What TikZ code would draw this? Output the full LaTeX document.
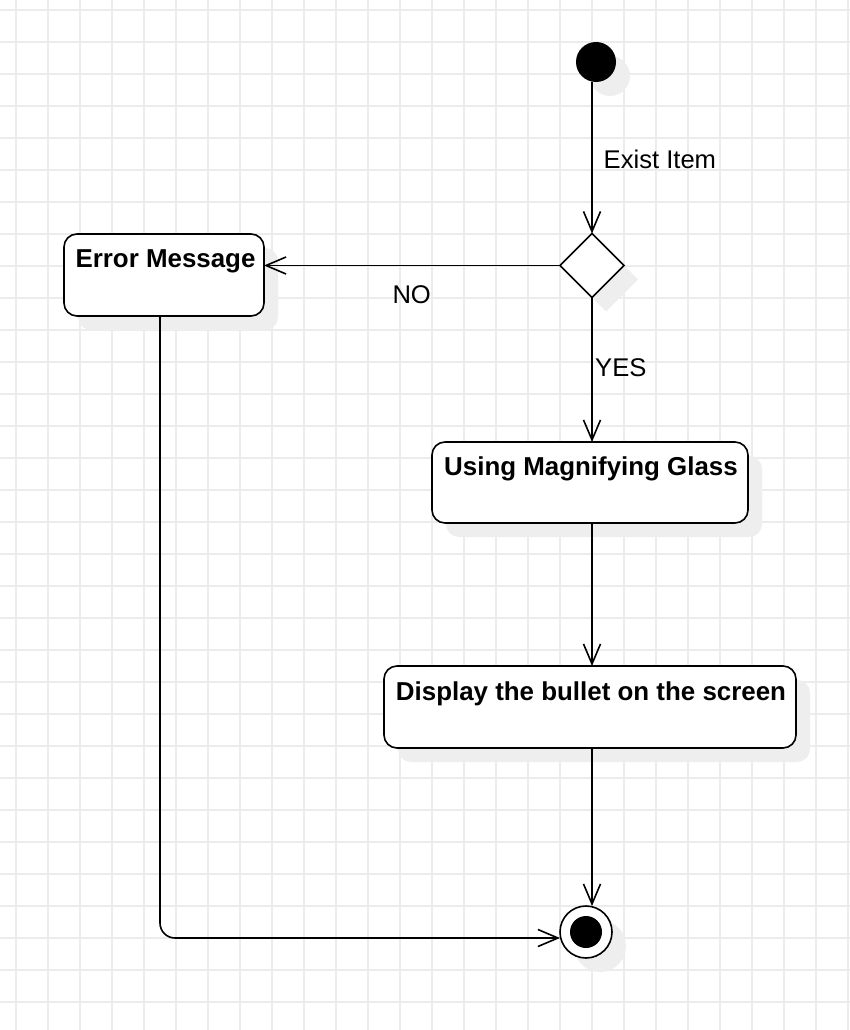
\documentclass[tikz,border=0pt]{standalone}
\usepackage{fontspec}
\setmainfont{Liberation Sans}
\usetikzlibrary{arrows.meta,shapes.geometric,calc,shadows}
\definecolor{gridc}{RGB}{236,236,236}
\definecolor{shadowc}{RGB}{238,238,238}
\begin{document}
\begin{tikzpicture}[x=1pt,y=-1pt,
  font=\fontsize{25.6}{30}\selectfont,
  shad/.style={drop shadow={shadow xshift=14pt,shadow yshift=-14pt,fill=shadowc,opacity=1}},
  actbox/.style={draw=black,line width=1.6pt,rounded corners=13pt,fill=white,inner sep=0pt,outer sep=0pt,shad},
  boxtext/.style={anchor=base,inner sep=0pt,font=\fontsize{25.9}{30}\selectfont\bfseries},
  lbl/.style={inner sep=0pt},
  flow/.style={line width=1.6pt,-{Straight Barb[length=20pt,width=17pt,line width=1.6pt]}},
]
\useasboundingbox (0,0) rectangle (850,1030);
\fill[white] (0,0) rectangle (850,1030);
% grid
\foreach \i in {0,...,26} {\draw[gridc,line width=1.3pt] (16+32*\i,0) -- (16+32*\i,1030);}
\foreach \j in {0,...,31} {\draw[gridc,line width=1.3pt] (0,10+32*\j) -- (850,10+32*\j);}

% nodes
\node[circle,fill=black,minimum size=40pt,inner sep=0pt,outer sep=0pt,shad] (start) at (596,62) {};
\node[diamond,draw=black,line width=1.6pt,fill=white,minimum width=64pt,minimum height=64pt,inner sep=0pt,outer sep=0pt,shad] (dec) at (592,265.5) {};
\node[actbox,minimum width=200pt,minimum height=82pt] (err) at (164,275) {};
\node[actbox,minimum width=316pt,minimum height=81pt] (use) at (590,482.5) {};
\node[actbox,minimum width=412pt,minimum height=82pt] (disp) at (590,707) {};
\node[circle,draw=black,line width=1.6pt,fill=white,minimum size=52pt,inner sep=0pt,outer sep=0pt,shad] (end) at (586,932) {};
\node[circle,fill=black,minimum size=32pt,inner sep=0pt] (endin) at (end.center) {};

% box texts
\node[boxtext] (errt) at ($(err.north)+(1.5,33.7)$) {Error Message};
\node[boxtext] (uset) at ($(use.north)+(1,33)$) {Using Magnifying Glass};
\node[boxtext] (dispt) at ($(disp.north)+(1,34)$) {Display the bullet on the screen};

% connectors
\draw[flow] (dec.north |- start.south) -- (dec.north);
\draw[flow] (dec.west) -- (dec.west -| err.east);
\draw[flow] (dec.south) -- (dec.south |- use.north);
\draw[flow] (dec.south |- use.south) -- (dec.south |- disp.north);
\draw[flow] (dec.south |- disp.south) -- (dec.south |- end.north);
\coordinate (errout) at ($(err.south)+(-4,0)$);
\coordinate (endin2) at ($(end.west)+(0,6)$);
\draw[flow,rounded corners=15pt] (errout) |- (endin2);

% edge labels
\node[lbl,anchor=base west] (lexist) at (603.5,168.3) {Exist Item};
\node[lbl,anchor=base] (lno) at (411.7,303.3) {NO};
\node[lbl,anchor=base west] (lyes) at (595,376) {YES};
\end{tikzpicture}
\end{document}
